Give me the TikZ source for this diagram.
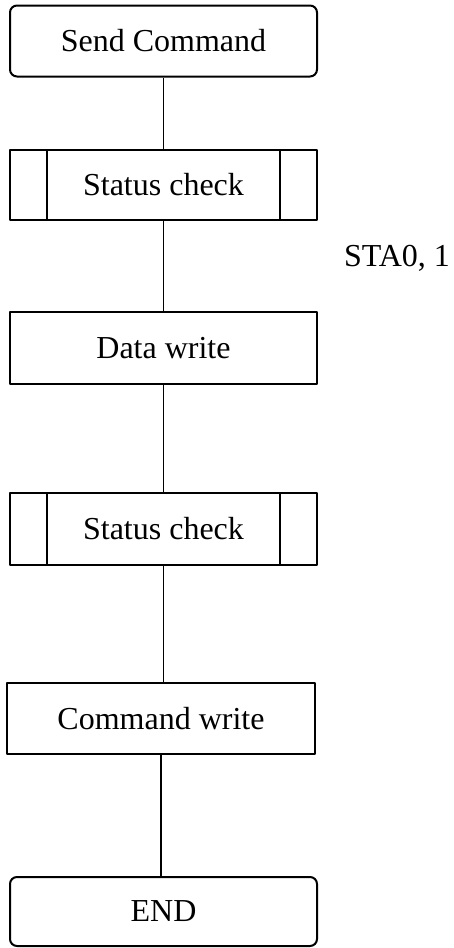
\documentclass[tikz,border=0pt]{standalone}
\usepackage{fontspec}
\setmainfont{Liberation Serif}
\begin{document}
\begin{tikzpicture}[x=1pt,y=-1pt,line join=round,font=\fontsize{32}{38}\selectfont,
	box/.style={draw,line width=2pt,minimum width=307pt,minimum height=71pt,inner sep=0pt},
	term/.style={box,rounded corners=7pt},
	subproc/.style={box,path picture={
		\draw[line width=1.8pt] ([xshift=37pt]path picture bounding box.north west)--([xshift=37pt]path picture bounding box.south west);
		\draw[line width=1.8pt] ([xshift=-37pt]path picture bounding box.north east)--([xshift=-37pt]path picture bounding box.south east);}},
	link/.style={line width=1.8pt}]
	\def\xc{163.5}
	\useasboundingbox (0,0) rectangle (453,948);
	\node[term] (send) at (\xc,41) {Send Command};
	\node[subproc,minimum height=70pt] (chk1) at (\xc,185) {Status check};
	\node (sta) at (397,258) {STA0, 1};
	\node[box,minimum height=72pt] (data) at (\xc,348) {Data write};
	\node[subproc,minimum height=72pt] (chk2) at (\xc,529) {Status check};
	\node[box,minimum width=308pt] (cmd) at (161,718.5) {Command write};
	\node[term,minimum height=69pt] (end) at (\xc,911.5) {END};
	\draw[link] (send)--(chk1);
	\draw[link] (chk1)--(data);
	\draw[link] (data)--(chk2);
	\draw[link] (chk2.south)--(chk2.south |- cmd.north);
	\draw[link] (cmd.south)--(cmd.south |- end.north);
\end{tikzpicture}
\end{document}
